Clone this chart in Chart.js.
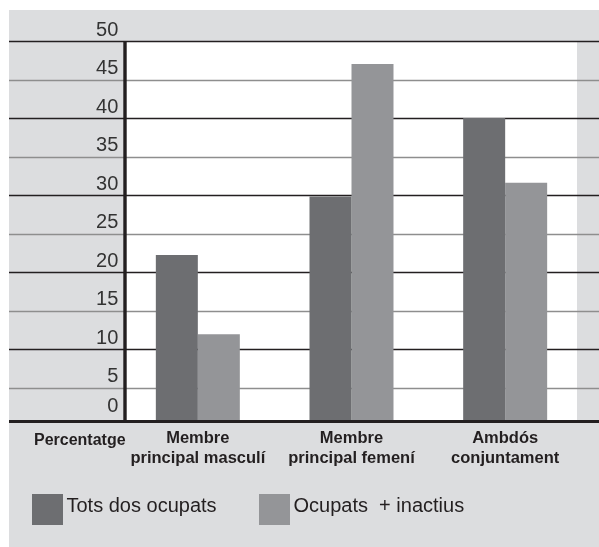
<!DOCTYPE html>
<html>
<head>
<meta charset="utf-8">
<style>
html,body{margin:0;padding:0;background:#fff;}
#wrap{position:relative;width:599px;height:547px;}
canvas{display:block;}
</style>
<script src="https://cdn.jsdelivr.net/npm/chart.js@4.4.1/dist/chart.umd.min.js"></script>
</head>
<body>
<div id="wrap"><canvas id="c" width="599" height="547"></canvas></div>
<script>
// ---- data ----
const categories = [["Membre", "principal masculí"], ["Membre", "principal femení"], ["Ambdós", "conjuntament"]];
const seriesNames = ["Tots dos ocupats", "Ocupats  + inactius"];
const totsDosOcupats = [22.2, 29.8, 40.0];
const ocupatsInactius = [11.9, 47.0, 31.6];
const yTickValues = [0, 5, 10, 15, 20, 25, 30, 35, 40, 45, 50];
const yTickLabels = ["0", "5", "10", "15", "20", "25", "30", "35", "40", "45", "50"];
const axisTitle = "Percentatge";

// ---- style ----
const COL = {
  bg: '#dcdddf', dark: '#6d6e71', light: '#949598', ink: '#231f20',
  gridGray: '#8e8e8e', label: '#333333'
};
const FONT_REG = '"Liberation Sans", Arial, sans-serif';

const framePlugin = {
  id: 'frame',
  beforeDraw(chart) {
    const { ctx, chartArea: a, scales: { y } } = chart;
    const axisY = y.getPixelForValue(0) - 4.5;
    ctx.save();
    ctx.fillStyle = '#ffffff';
    ctx.fillRect(0, 0, chart.width, chart.height);
    ctx.fillStyle = COL.bg;
    ctx.fillRect(9, 10, chart.width - 9, chart.height - 10);
    ctx.fillStyle = '#ffffff';
    ctx.fillRect(a.left + 4, a.top, (a.right - 5) - (a.left + 4), axisY - a.top);
    yTickValues.forEach((v) => {
      if (v === 0) return;
      const py = Math.round(y.getPixelForValue(v)) + 0.5;
      ctx.beginPath();
      ctx.moveTo(9, py);
      ctx.lineTo(chart.width, py);
      ctx.lineWidth = 1.4;
      ctx.strokeStyle = (v % 10 === 0) ? COL.ink : COL.gridGray;
      ctx.stroke();
    });
    ctx.restore();
  },
  afterDatasetsDraw(chart) {
    const { ctx, chartArea: a, scales: { y } } = chart;
    const axisY = y.getPixelForValue(0) - 4.5;
    ctx.save();
    ctx.fillStyle = COL.ink;
    ctx.fillRect(a.left + 2.3, a.top, 3.4, axisY + 1.5 - a.top);
    ctx.fillRect(9, axisY - 1.5, chart.width - 9, 3);
    ctx.font = '20px ' + FONT_REG;
    ctx.fillStyle = COL.label;
    ctx.textAlign = 'right';
    ctx.textBaseline = 'alphabetic';
    yTickValues.forEach((v, i) => {
      const py = v === 0 ? axisY - 9.2 : y.getPixelForValue(v) - 5.5;
      ctx.fillText(yTickLabels[i], a.left - 2.7, py);
    });
    ctx.font = '900 16px ' + FONT_REG;
    ctx.fillStyle = COL.ink;
    ctx.textAlign = 'left';
    ctx.fillText(axisTitle, 34, 445);
    const boxX = [32, 259];
    chart.data.datasets.forEach((ds, i) => {
      ctx.fillStyle = ds.backgroundColor;
      ctx.fillRect(boxX[i], 494, 31, 31);
      ctx.font = '20px ' + FONT_REG;
      ctx.fillStyle = COL.ink;
      ctx.fillText(ds.label, boxX[i] + 34.5, 511.7);
    });
    ctx.restore();
  }
};

new Chart(document.getElementById('c'), {
  type: 'bar',
  data: {
    labels: categories,
    datasets: [
      { label: seriesNames[0], data: totsDosOcupats, backgroundColor: COL.dark, borderWidth: 0,
        categoryPercentage: 0.5466, barPercentage: 1.0, clip: { left: 0, top: 0, right: 0, bottom: -4 } },
      { label: seriesNames[1], data: ocupatsInactius, backgroundColor: COL.light, borderWidth: 0,
        categoryPercentage: 0.5466, barPercentage: 1.0, clip: { left: 0, top: 0, right: 0, bottom: -4 } }
    ]
  },
  options: {
    responsive: false,
    animation: false,
    devicePixelRatio: 1,
    layout: { padding: { left: 0, right: 17, top: 41, bottom: 0 } },
    plugins: { legend: { display: false }, tooltip: { enabled: false }, title: { display: false } },
    scales: {
      x: {
        grid: { display: false, drawTicks: false },
        border: { display: false },
        ticks: {
          color: COL.ink, padding: 2.5, maxRotation: 0, autoSkip: false,
          font: { family: FONT_REG, size: 16.5, weight: 'bold', lineHeight: '20px' }
        },
        afterFit(scale) { scale.height = 121; }
      },
      y: {
        min: 0, max: 50,
        grid: { display: false, drawTicks: false },
        border: { display: false },
        ticks: { display: false, stepSize: 5 },
        afterFit(scale) { scale.width = 121; }
      }
    }
  },
  plugins: [framePlugin]
});
</script>
</body>
</html>
